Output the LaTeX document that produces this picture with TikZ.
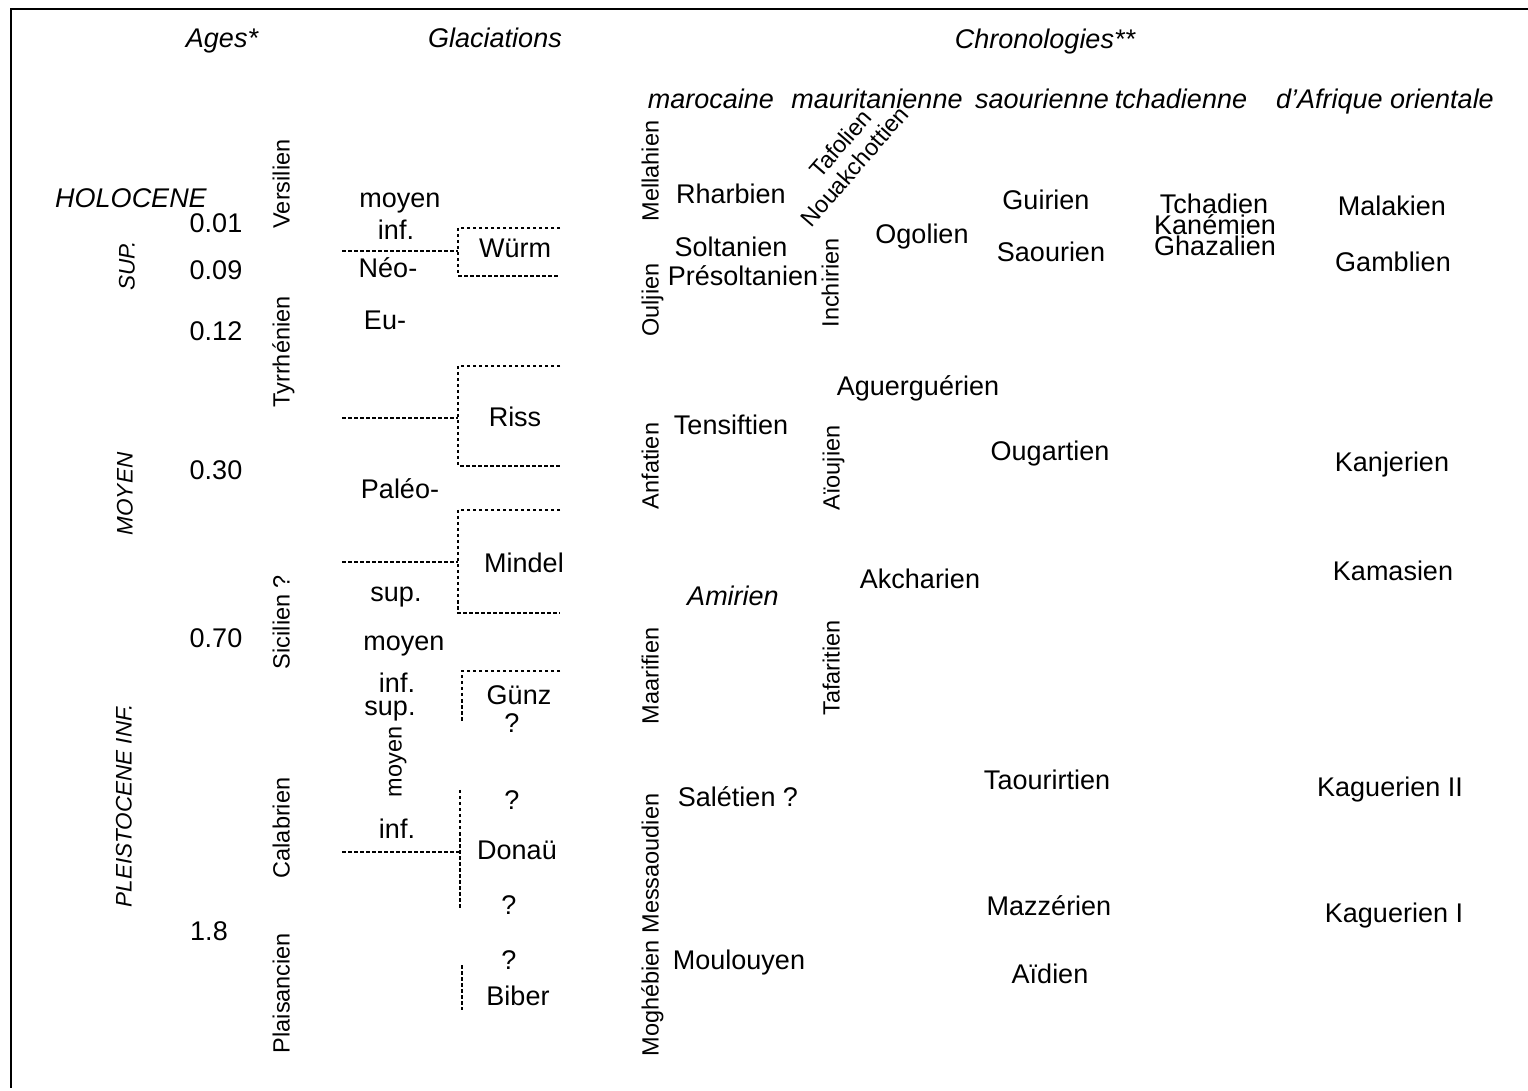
\documentclass[tikz,border=0pt]{standalone}
\usepackage{fontspec}
\setmainfont{Liberation Sans}
\begin{document}
\begin{tikzpicture}[x=0.4pt, y=-0.4pt,
    txt/.style={font=\fontsize{10.8}{11}\selectfont, inner sep=0pt, anchor=mid, yshift=-0.8pt},
    vtxt/.style={font=\fontsize{9.4}{11}\selectfont, rotate=90, inner sep=0pt, anchor=mid},
    hdr/.style={font=\fontsize{10.8}{11}\selectfont\itshape, inner sep=0pt, anchor=mid},
    era/.style={font=\fontsize{9}{11}\selectfont\itshape, rotate=90, inner sep=0pt, anchor=mid},
    brk/.style={dash pattern=on 1.4pt off 1pt, line width=0.45pt}]
    \useasboundingbox (0,0) rectangle (1528,1091);
    \draw[line width=0.8pt] (1528,9) -- (11,9) -- (11,1088);
    % titres
    \node[hdr] (ages) at (222,41) {Ages*};
    \node[hdr] (glac) at (495,41) {Glaciations};
    \node[hdr] (chrono) at (1045,42) {Chronologies**};
    \node[hdr] (maroc) at (711,102) {marocaine};
    \node[hdr] (mauri) at (877,102) {mauritanienne};
    \node[hdr] (saour) at (1042,102) {saourienne};
    \node[hdr] (tchad) at (1181,102) {tchadienne};
    \node[hdr] (afor) at (1385,102) {d'Afrique orientale};
    % ages
    \node[hdr] (holo) at (131,201) {HOLOCENE};
    \node[era] (sup) at (128,266) {SUP.};
    \node[era] (moy) at (126,494) {MOYEN};
    \node[era] (pinf) at (125,806) {PLEISTOCENE INF.};
    \node[txt] (a1) at (216,224) {0.01};
    \node[txt] (a2) at (216,271) {0.09};
    \node[txt] (a3) at (216,332) {0.12};
    \node[txt] (a4) at (216,471) {0.30};
    \node[txt] (a5) at (216,639) {0.70};
    \node[txt] (a6) at (209,932) {1.8};
    \node[vtxt] (versi) at (283,184) {Versilien};
    \node[vtxt] (tyrr) at (283,352) {Tyrrhénien};
    \node[vtxt] (sici) at (283,622) {Sicilien ?};
    \node[vtxt] (calab) at (283,828) {Calabrien};
    \node[vtxt] (plais) at (283,993) {Plaisancien};
    % glaciations
    \node[txt] (g1) at (400,199) {moyen};
    \node[txt] (g2) at (396,231) {inf.};
    \node[txt] (g3) at (388,269) {Néo-};
    \node[txt] (g4) at (385,321) {Eu-};
    \node[txt] (g5) at (400,490) {Paléo-};
    \node[txt] (g6) at (396,593) {sup.};
    \node[txt] (g7) at (404,642) {moyen};
    \node[txt] (g8) at (397,684) {inf.};
    \node[txt] (g9) at (390,707) {sup.};
    \node[vtxt] (g10) at (395,762) {moyen};
    \node[txt] (g11) at (397,830) {inf.};
    \node[txt] (wurm) at (515,249) {Würm};
    \node[txt] (riss) at (515,418) {Riss};
    \node[txt] (mind) at (524,564) {Mindel};
    \node[txt] (gunz) at (519,696) {Günz};
    \node[txt] (q1) at (512,724) {?};
    \node[txt] (q2) at (512,801) {?};
    \node[txt] (donau) at (517,851) {Donaü};
    \node[txt] (q3) at (509,906) {?};
    \node[txt] (q4) at (509,961) {?};
    \node[txt] (biber) at (518,997) {Biber};
    \draw[brk] (342,251) -- (458,251);
    \draw[brk] (560,228) -- (458,228) -- (458,276) -- (560,276);
    \draw[brk] (342,418) -- (458,418);
    \draw[brk] (560,366) -- (458,366) -- (458,466) -- (560,466);
    \draw[brk] (342,562) -- (458,562);
    \draw[brk] (560,510) -- (458,510) -- (458,613) -- (560,613);
    \draw[brk] (560,671) -- (462,671) -- (462,722);
    \draw[brk] (342,852) -- (460,852);
    \draw[brk] (460,790) -- (460,908);
    \draw[brk] (462,965) -- (462,1010);
    % chronologie marocaine
    \node[vtxt] (mella) at (652,171) {Mellahien};
    \node[vtxt] (oulj) at (652,300) {Ouljien};
    \node[vtxt] (anfa) at (652,466) {Anfatien};
    \node[vtxt] (maar) at (652,676) {Maarifien};
    \node[vtxt] (mogh) at (652,925) {Moghébien Messaoudien};
    \node[txt] (rhar) at (731,195) {Rharbien};
    \node[txt] (solt) at (731,248) {Soltanien};
    \node[txt] (psolt) at (743,277) {Présoltanien};
    \node[txt] (tens) at (731,426) {Tensiftien};
    \node[txt, font=\fontsize{10.8}{11}\selectfont\itshape] (amir) at (733,597) {Amirien};
    \node[txt] (sale) at (738,798) {Salétien ?};
    \node[txt] (moul) at (739,961) {Moulouyen};
    % chronologie mauritanienne
    \node[vtxt, rotate=-41, anchor=base west] (tafo) at (820,180) {Tafolien};
    \node[vtxt, rotate=-41, anchor=base west] (nouak) at (811,229) {Nouakchottien};
    \node[vtxt] (inch) at (832,283) {Inchirien};
    \node[vtxt] (aiou) at (833,468) {Aïoujien};
    \node[vtxt] (tafa) at (833,668) {Tafaritien};
    \node[txt] (ogol) at (922,235) {Ogolien};
    \node[txt] (ague) at (918,387) {Aguerguérien};
    \node[txt] (akch) at (920,580) {Akcharien};
    % chronologie saourienne
    \node[txt] (guir) at (1046,201) {Guirien};
    \node[txt] (saou) at (1051,253) {Saourien};
    \node[txt] (ouga) at (1050,452) {Ougartien};
    \node[txt] (taou) at (1047,781) {Taourirtien};
    \node[txt] (mazz) at (1049,907) {Mazzérien};
    \node[txt] (aidi) at (1050,975) {Aïdien};
    % chronologie tchadienne
    \node[txt] (tcha) at (1214,205) {Tchadien};
    \node[txt] (kane) at (1215,226) {Kanémien};
    \node[txt] (ghaz) at (1215,247) {Ghazalien};
    % chronologie d'Afrique orientale
    \node[txt] (mala) at (1392,207) {Malakien};
    \node[txt] (gamb) at (1393,263) {Gamblien};
    \node[txt] (kanj) at (1392,463) {Kanjerien};
    \node[txt] (kama) at (1393,572) {Kamasien};
    \node[txt] (kag2) at (1390,788) {Kaguerien II};
    \node[txt] (kag1) at (1394,914) {Kaguerien I};
\end{tikzpicture}
\end{document}
